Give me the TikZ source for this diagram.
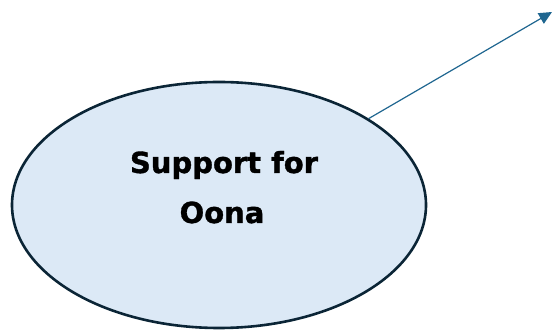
\documentclass[tikz,border=0pt]{standalone}
\usepackage{fontspec}
\setmainfont{DejaVu Sans}
\newfontfamily\labelfont{DejaVu Sans Bold}[FakeBold=1.2]
\usetikzlibrary{shapes.geometric,arrows.meta}
\definecolor{fillblue}{HTML}{DCE9F6}
\definecolor{edgenavy}{HTML}{0B2536}
\definecolor{arrowblue}{HTML}{1F6690}
\tikzset{
  bubble/.style={ellipse, draw=edgenavy, fill=fillblue, line width=2.6pt, inner sep=0pt},
  linkarrow/.style={draw=arrowblue, line width=1.2pt, -{Triangle[length=13pt,width=12pt]}},
  labeltext/.style={font=\labelfont\fontsize{29}{54}\selectfont, align=center, text=black, inner sep=0pt}
}
\begin{document}
\begin{tikzpicture}[x=1pt,y=1pt]
\useasboundingbox (0,0) rectangle (552,334);
\node[bubble, minimum width=414pt, minimum height=246pt] (support) at (219,129) {};
\node[labeltext, anchor=base] (line1) at (224,161) {Support for};
\node[labeltext, anchor=base] (line2) at (222,111) {Oona};
\coordinate (tip) at (552,322);
\draw[linkarrow] (support.30) -- (tip);
\end{tikzpicture}
\end{document}
